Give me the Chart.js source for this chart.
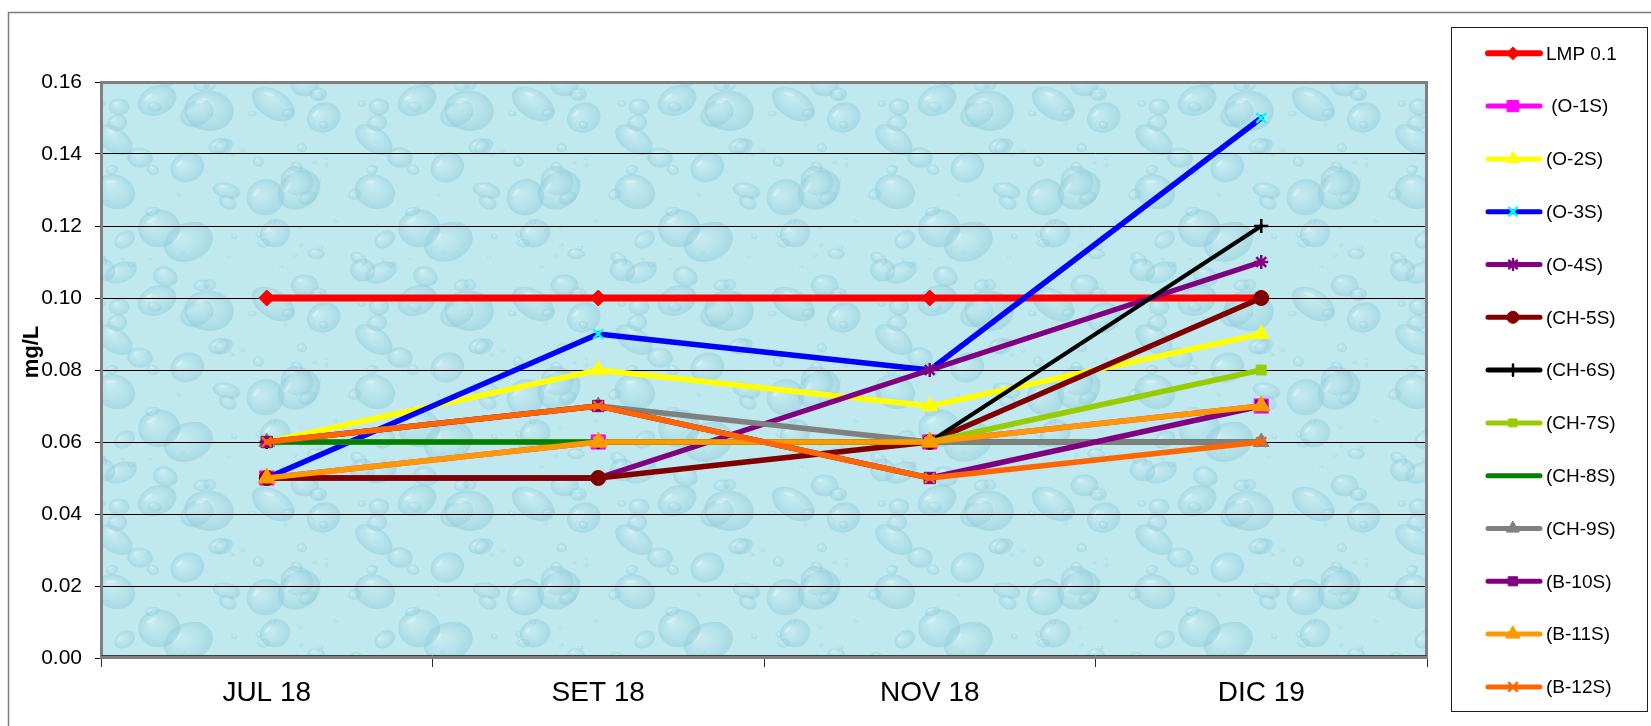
<!DOCTYPE html>
<html>
<head>
<meta charset="utf-8">
<title>mg/L</title>
<script src="https://cdn.jsdelivr.net/npm/chart.js@4/dist/chart.umd.min.js"></script>
<style>
  html, body { margin: 0; padding: 0; background: #ffffff; }
  #wrap { width: 1651px; height: 726px; position: relative; }
  canvas { display: block; }
</style>
</head>
<body>
<div id="wrap"><canvas id="chart" width="1651" height="726"></canvas></div>
<script>
// Sampling dates
const categories = ['JUL 18', 'SET 18', 'NOV 18', 'DIC 19'];

// Series labels (legend order)
const seriesNames = ['LMP 0.1', ' (O-1S)', '(O-2S)', '(O-3S)', '(O-4S)', '(CH-5S)', '(CH-6S)',
                     '(CH-7S)', '(CH-8S)', '(CH-9S)', '(B-10S)', '(B-11S)', '(B-12S)'];

// Concentrations, mg/L
const lmp  = [0.10, 0.10, 0.10, 0.10];
const o1s  = [0.05, 0.06, 0.06, 0.07];
const o2s  = [0.06, 0.08, 0.07, 0.09];
const o3s  = [0.05, 0.09, 0.08, 0.15];
const o4s  = [0.05, 0.05, 0.08, 0.11];
const ch5s = [0.05, 0.05, 0.06, 0.10];
const ch6s = [0.06, 0.06, 0.06, 0.12];
const ch7s = [0.06, 0.06, 0.06, 0.08];
const ch8s = [0.06, 0.06, 0.06, 0.06];
const ch9s = [0.06, 0.07, 0.06, 0.06];
const b10s = [0.06, 0.07, 0.05, 0.07];
const b11s = [0.05, 0.06, 0.06, 0.07];
const b12s = [0.06, 0.07, 0.05, 0.06];

// Value axis ticks
const yMin = 0, yMax = 0.16, yStep = 0.02;

const seriesValues = [lmp, o1s, o2s, o3s, o4s, ch5s, ch6s, ch7s, ch8s, ch9s, b10s, b11s, b12s];

// Line / marker styling per series
const styles = [
  { line: '#FF0000', mark: '#FF0000', point: 'rectRot',  r: 8,  w: 7 },
  { line: '#FF00FF', mark: '#FF00FF', point: 'rect',     r: 10, w: 5.5 },
  { line: '#FFFF00', mark: '#FFFF00', point: 'triangle', r: 9,  w: 5.5 },
  { line: '#0000FF', mark: '#00FFFF', point: 'crossRot', r: 7,  w: 5.5 },
  { line: '#800080', mark: '#800080', point: 'star',     r: 7,  w: 5.5 },
  { line: '#800000', mark: '#800000', point: 'circle',   r: 7.5,w: 5.5 },
  { line: '#000000', mark: '#000000', point: 'cross',    r: 7,  w: 4 },
  { line: '#99CC00', mark: '#99CC00', point: 'rect',     r: 7,  w: 5.5 },
  { line: '#008000', mark: '#008000', point: 'circle',   r: 0,  w: 5.5 },
  { line: '#808080', mark: '#808080', point: 'triangle', r: 9,  w: 5.5 },
  { line: '#800080', mark: '#800080', point: 'rect',     r: 8,  w: 5.5 },
  { line: '#FF9900', mark: '#FF9900', point: 'triangle', r: 10, w: 5.5 },
  { line: '#FF6600', mark: '#FF6600', point: 'crossRot', r: 7,  w: 5.5 }
];

const FONT = "'Liberation Sans', Arial, sans-serif";

// Soft water-drop texture used as plot background
function makeDropPattern(ctx) {
  const W = 260, H = 200;
  const c = document.createElement('canvas');
  c.width = W; c.height = H;
  const g = c.getContext('2d');
  g.fillStyle = '#BFE8EF';
  g.fillRect(0, 0, W, H);
  let s = 98765;
  const rnd = () => (s = (s * 16807) % 2147483647) / 2147483647;
  const drops = [];
  for (let i = 0; i < 70; i++) {
    drops.push({ x: rnd() * W, y: rnd() * H, r: 2 + Math.pow(rnd(), 2.0) * 24, a: (rnd() - 0.5) * 1.2, e: 0.55 + rnd() * 0.4 });
  }
  function drop(x, y, r, a, e) {
    g.save();
    g.translate(x, y);
    g.rotate(a);
    g.scale(1, e);
    const grad = g.createRadialGradient(-r * 0.3, -r * 0.35, r * 0.05, 0, 0, r);
    grad.addColorStop(0, 'rgba(215,244,248,0.30)');
    grad.addColorStop(0.6, 'rgba(160,212,224,0.30)');
    grad.addColorStop(1, 'rgba(130,194,210,0.40)');
    g.fillStyle = grad;
    g.beginPath(); g.arc(0, 0, r, 0, Math.PI * 2); g.fill();
    g.fillStyle = 'rgba(255,255,255,0.30)';
    g.beginPath(); g.ellipse(-r * 0.35, -r * 0.45, r * 0.25, r * 0.1, -0.5, 0, Math.PI * 2); g.fill();
    g.restore();
  }
  drops.forEach(d => {
    for (let dx = -W; dx <= W; dx += W) {
      for (let dy = -H; dy <= H; dy += H) {
        const x = d.x + dx, y = d.y + dy;
        if (x + d.r > 0 && x - d.r < W && y + d.r > 0 && y - d.r < H) drop(x, y, d.r, d.a, d.e);
      }
    }
  });
  return ctx.createPattern(c, 'repeat');
}

let dropPattern = null;

const framePlugin = {
  id: 'frame',
  beforeDraw(chart) {
    const { ctx, chartArea: a } = chart;
    ctx.save();
    // outer chart border
    ctx.strokeStyle = '#7a7a7a';
    ctx.lineWidth = 1.5;
    ctx.beginPath();
    ctx.moveTo(8.5, 726); ctx.lineTo(8.5, 12.5); ctx.lineTo(1651, 12.5);
    ctx.stroke();
    // plot area texture
    if (!dropPattern) dropPattern = makeDropPattern(ctx);
    ctx.fillStyle = dropPattern;
    ctx.translate(a.left, a.top);
    ctx.fillRect(0, 0, a.right - a.left, a.bottom - a.top);
    ctx.restore();
  },
  beforeDatasetsDraw(chart) {
    const { ctx, chartArea: a } = chart;
    ctx.save();
    ctx.strokeStyle = '#808080';
    ctx.lineWidth = 3;
    ctx.strokeRect(a.left + 0.5, a.top + 0.5, a.right - a.left - 1, a.bottom - a.top - 1);
    ctx.strokeStyle = '#404040';
    ctx.lineWidth = 1;
    ctx.beginPath();
    ctx.moveTo(a.left, a.bottom - 2.5); ctx.lineTo(a.right, a.bottom - 2.5);
    ctx.stroke();
    ctx.restore();
  },
  afterDraw(chart) {
    const { ctx, chartArea: a } = chart;
    ctx.save();
    // value axis title
    ctx.translate(32, (a.top + a.bottom) / 2 - 18);
    ctx.rotate(-Math.PI / 2);
    ctx.font = 'bold 22px ' + FONT;
    ctx.fillStyle = '#000';
    ctx.textAlign = 'center';
    ctx.textBaseline = 'middle';
    ctx.fillText('mg/L', 0, 0);
    ctx.restore();

    // legend box
    ctx.save();
    ctx.strokeStyle = '#202020';
    ctx.lineWidth = 1;
    ctx.strokeRect(1451.5, 27.5, 196, 684);
    chart.data.datasets.forEach((ds, i) => {
      const y = 53.3 + 52.8 * i;
      ctx.strokeStyle = ds.borderColor;
      ctx.lineWidth = i === 0 ? 6 : 5;
      ctx.lineCap = 'round';
      ctx.beginPath();
      ctx.moveTo(1488, y); ctx.lineTo(1540, y);
      ctx.stroke();
      if (ds.pointRadius > 0) {
        ctx.fillStyle = ds.pointBackgroundColor;
        ctx.strokeStyle = ds.pointBorderColor;
        ctx.lineWidth = ds.pointBorderWidth;
        Chart.helpers.drawPoint(ctx, {
          pointStyle: ds.pointStyle,
          radius: ds.pointRadius * 0.8,
          rotation: 0,
          borderWidth: ds.pointBorderWidth
        }, 1513, y);
      }
      ctx.fillStyle = '#000';
      ctx.font = '19px ' + FONT;
      ctx.textAlign = 'left';
      ctx.textBaseline = 'middle';
      ctx.fillText(ds.label, 1546, y + 1);
    });
    ctx.restore();
  }
};

const datasets = seriesValues.map((vals, i) => {
  const st = styles[i];
  return {
    label: seriesNames[i],
    data: vals,
    borderColor: st.line,
    borderWidth: st.w,
    backgroundColor: st.mark,
    pointStyle: st.point,
    pointRadius: st.r,
    pointBackgroundColor: st.mark,
    pointBorderColor: st.mark,
    pointBorderWidth: (st.point === 'crossRot' || st.point === 'cross' || st.point === 'star') ? 2.5 : 1,
    borderCapStyle: 'round',
    borderJoinStyle: 'round',
    tension: 0,
    fill: false,
    clip: false,
    // later series are painted over earlier ones
    order: seriesValues.length - 1 - i
  };
});

new Chart(document.getElementById('chart'), {
  type: 'line',
  data: { labels: categories, datasets },
  plugins: [framePlugin],
  options: {
    responsive: false,
    animation: false,
    devicePixelRatio: 1,
    layout: { padding: { top: 82, right: 224, left: 0, bottom: 0 } },
    plugins: { legend: { display: false }, tooltip: { enabled: false } },
    scales: {
      x: {
        type: 'category',
        offset: true,
        grid: {
          offset: true,
          drawOnChartArea: false,
          drawTicks: true,
          tickLength: 9,
          tickColor: '#303030',
          lineWidth: 1
        },
        border: { display: false },
        ticks: {
          color: '#000',
          font: { family: FONT, size: 28 },
          padding: 9,
          maxRotation: 0,
          autoSkip: false
        },
        afterFit(scale) { scale.height = 68; }
      },
      y: {
        min: yMin,
        max: yMax,
        grid: {
          color: '#000',
          lineWidth: 1,
          drawTicks: true,
          tickLength: 6,
          tickColor: '#000'
        },
        border: { display: false },
        ticks: {
          stepSize: yStep,
          color: '#000',
          font: { family: FONT, size: 21 },
          padding: 13,
          callback: v => Number(v).toFixed(2)
        },
        afterFit(scale) { scale.width = 101; }
      }
    }
  }
});
</script>
</body>
</html>
